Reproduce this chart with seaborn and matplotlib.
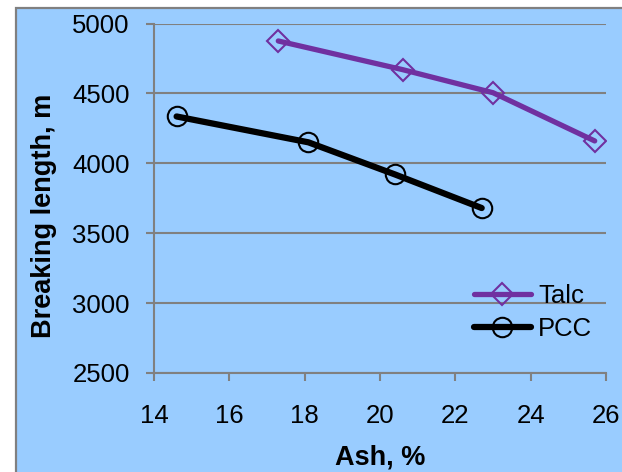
import matplotlib
matplotlib.use("Agg")
import matplotlib.pyplot as plt
import seaborn as sns
import pandas as pd
from matplotlib.patches import Rectangle

# Ash content (%) and breaking length (m)
talc_ash = [17.3, 20.6, 23.0, 25.7]
talc_breaking = [4875, 4670, 4505, 4160]
pcc_ash = [14.6, 18.1, 20.4, 22.7]
pcc_breaking = [4335, 4150, 3920, 3680]

x_ticks = [14, 16, 18, 20, 22, 24, 26]
y_ticks = [2500, 3000, 3500, 4000, 4500, 5000]

talc = pd.DataFrame({"ash": talc_ash, "breaking": talc_breaking})
pcc = pd.DataFrame({"ash": pcc_ash, "breaking": pcc_breaking})

sns.set_theme(style="white")
plt.rcParams["font.family"] = ["Liberation Sans", "DejaVu Sans"]
plt.rcParams["text.color"] = "black"
plt.rcParams["axes.labelcolor"] = "black"
plt.rcParams["xtick.labelcolor"] = "black"
plt.rcParams["ytick.labelcolor"] = "black"

bg = "#99CCFF"
grey = "#808080"

fig = plt.figure(figsize=(6.22, 4.72), dpi=100)
fig.patch.set_facecolor("white")
# chart area box (Excel style), kept behind the axes
fig.patches.append(Rectangle((16 / 622, -0.05), 1.0, 1 - 8 / 472 + 0.05,
                             transform=fig.transFigure, facecolor=bg,
                             edgecolor=grey, linewidth=1.6, zorder=-5))

ax = fig.add_axes([154 / 622, 1 - 373 / 472, 452 / 622, 349.5 / 472])
ax.set_facecolor(bg)
ax.set_zorder(1)

sns.lineplot(data=talc, x="ash", y="breaking", ax=ax, color="#7030A0",
             linewidth=3.8, marker="D", markersize=11, markerfacecolor="none",
             markeredgecolor="#7030A0", markeredgewidth=1.5, label="Talc",
             sort=False)
sns.lineplot(data=pcc, x="ash", y="breaking", ax=ax, color="black",
             linewidth=4.5, marker="o", markersize=14, markerfacecolor="none",
             markeredgecolor="black", markeredgewidth=1.5, label="PCC",
             sort=False)

ax.set_xlim(14, 26)
ax.set_ylim(2500, 5000)
ax.set_xticks(x_ticks)
ax.set_yticks(y_ticks)

ax.yaxis.grid(True, color=grey, linewidth=1.5)
ax.xaxis.grid(False)
ax.set_axisbelow(True)

for side in ["top", "right"]:
    ax.spines[side].set_visible(False)
for side in ["left", "bottom"]:
    ax.spines[side].set_color(grey)
    ax.spines[side].set_linewidth(1.5)

ax.tick_params(axis="x", direction="out", length=5.5, width=1.5, color=grey,
               labelsize=18.5, pad=17, bottom=True)
ax.tick_params(axis="y", direction="out", length=5.5, width=1.5, color=grey,
               labelsize=18.5, pad=12, left=True)

ax.set_xlabel("Ash, %", fontsize=19.5, fontweight="bold")
ax.set_ylabel("Breaking length, m", fontsize=19.5, fontweight="bold")
ax.xaxis.set_label_coords(0.5, -0.205)
ax.yaxis.set_label_coords(-0.215, 0.449)

ax.legend(loc="upper left", bbox_to_anchor=(0.708, 0.255), frameon=False,
          fontsize=18.5, handlelength=2.2, handletextpad=0.3, labelspacing=0.35,
          borderpad=0, borderaxespad=0)

fig.savefig("out.png", dpi=100, facecolor="white")
